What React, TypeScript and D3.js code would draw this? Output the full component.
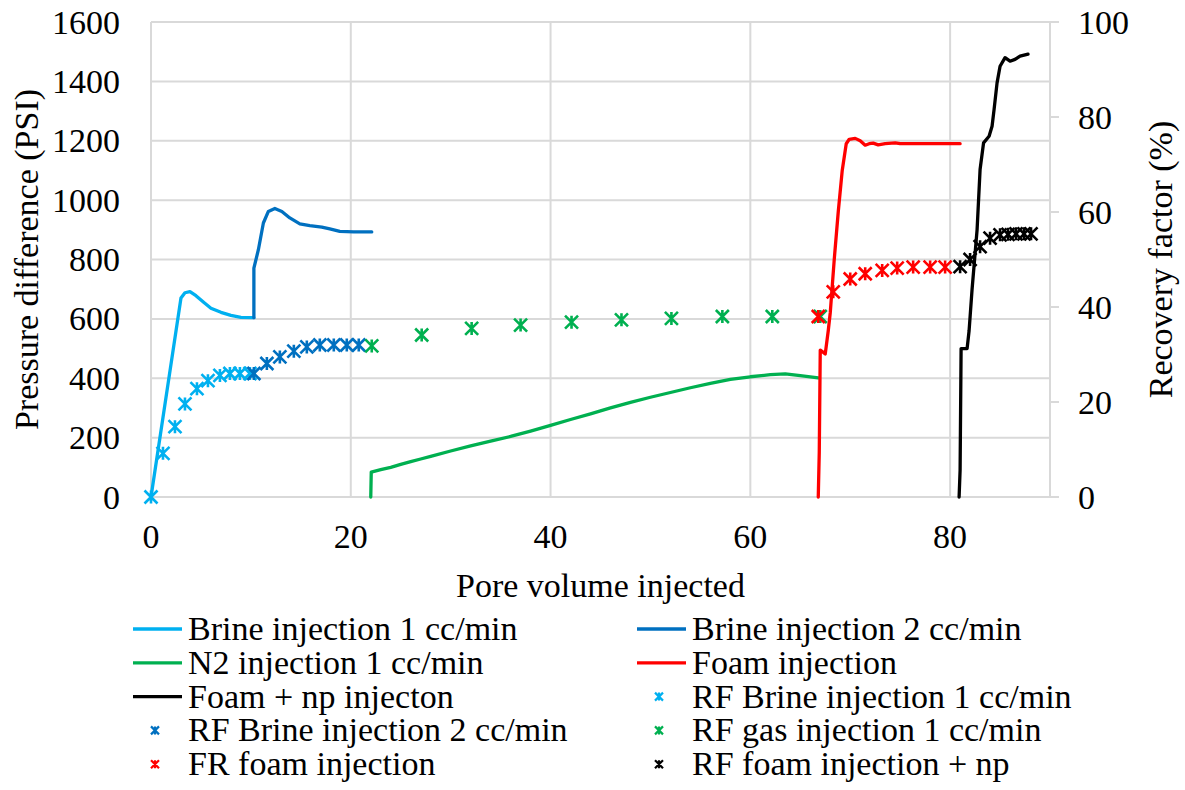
import React, { useEffect } from "react";
import * as d3 from "d3";

// ---- Data (pore volume injected, value) ----
const brine1Line: [number, number][] = [
  [0, 0], [3.0, 670], [3.4, 688], [3.9, 692], [4.5, 678], [5.3, 655], [6.0, 636],
  [7.0, 622], [8.0, 612], [9.0, 605], [10.3, 604],
];
const brine2Line: [number, number][] = [
  [10.3, 604], [10.3, 771], [10.75, 833], [11.25, 923], [11.75, 962], [12.4, 972],
  [13.1, 962], [13.9, 940], [14.9, 920], [15.9, 914], [17.1, 909], [17.9, 903],
  [18.9, 895], [20.3, 893], [22.1, 893],
];
const n2Line: [number, number][] = [
  [22.0, 0], [22.05, 84], [23, 92], [24, 100], [25, 110], [26, 119], [27, 128],
  [28, 137], [30, 155], [32, 172], [34, 188], [36, 204], [38, 222], [40, 241],
  [42, 261], [44, 280], [46, 300], [48, 319], [50, 336], [52, 352], [54, 368],
  [56, 383], [58, 396], [60, 405], [62, 412], [63.5, 415], [65, 409], [66.8, 401],
];
const foamLine: [number, number][] = [
  [66.8, 0], [66.9, 150], [67.0, 495], [67.5, 482], [67.8, 560], [68.0, 620],
  [68.4, 800], [68.8, 960], [69.2, 1100], [69.6, 1190], [69.9, 1205], [70.5, 1208],
  [71.0, 1200], [71.5, 1185], [71.9, 1190], [72.3, 1192], [72.8, 1186], [73.5, 1190],
  [74.5, 1193], [75, 1190], [81, 1190],
];
const foamNpLine: [number, number][] = [
  [80.9, 0], [81.0, 90], [81.1, 500], [81.7, 500], [81.9, 560], [82.2, 700],
  [82.7, 900], [83.0, 1103], [83.35, 1193], [83.9, 1215], [84.2, 1249], [84.4, 1305],
  [84.7, 1395], [85.0, 1451], [85.5, 1480], [86.0, 1468], [86.5, 1474], [87.0, 1485],
  [87.8, 1492],
];

const rfBrine1: [number, number][] = [
  [0, 0], [1.2, 9.2], [2.4, 14.8], [3.4, 19.6], [4.6, 22.8], [5.7, 24.5],
  [6.9, 25.6], [7.9, 26], [8.9, 26], [9.9, 26],
];
const rfBrine2: [number, number][] = [
  [10.3, 26], [11.6, 28.1], [12.9, 29.5], [14.3, 30.7], [15.6, 31.6], [16.9, 32],
  [18.3, 32], [19.6, 32], [20.8, 32],
];
const rfGas: [number, number][] = [
  [22.1, 31.8], [27.1, 34.1], [32.1, 35.5], [37, 36.2], [42.1, 36.8], [47.1, 37.3],
  [52.1, 37.6], [57.2, 38], [62.2, 38], [67, 38],
];
const rfFoam: [number, number][] = [
  [66.8, 38], [68.3, 43.2], [70, 45.9], [71.5, 47], [73.2, 47.7], [74.7, 48.2],
  [76.3, 48.4], [78, 48.4], [79.5, 48.4],
];
const rfFoamNp: [number, number][] = [
  [81, 48.5], [82, 50], [83, 52.7], [84, 54.5], [85, 55.2], [85.8, 55.3],
  [86.6, 55.4], [87.4, 55.4], [88.1, 55.4],
];

const xTicks = [0, 20, 40, 60, 80];
const yLeftTicks = [0, 200, 400, 600, 800, 1000, 1200, 1400, 1600];
const yRightTicks = [0, 20, 40, 60, 80, 100];

const COLORS = {
  brine1: "#00B0F0",
  brine2: "#0070C0",
  n2: "#00B050",
  foam: "#FF0000",
  foamNp: "#000000",
};

const lineSeries = [
  { name: "Brine injection 1 cc/min", data: brine1Line, color: COLORS.brine1 },
  { name: "Brine injection 2 cc/min", data: brine2Line, color: COLORS.brine2 },
  { name: "N2 injection 1 cc/min", data: n2Line, color: COLORS.n2 },
  { name: "Foam injection", data: foamLine, color: COLORS.foam },
  { name: "Foam + np injecton", data: foamNpLine, color: COLORS.foamNp },
];
const markerSeries = [
  { name: "RF Brine injection 1 cc/min", data: rfBrine1, color: COLORS.brine1 },
  { name: "RF Brine injection 2 cc/min", data: rfBrine2, color: COLORS.brine2 },
  { name: "RF gas injection 1 cc/min", data: rfGas, color: COLORS.n2 },
  { name: "FR foam injection", data: rfFoam, color: COLORS.foam },
  { name: "RF foam injection + np", data: rfFoamNp, color: COLORS.foamNp },
];

const FONT = "Liberation Serif";
const FS = 34;

function starPath(s: number) {
  return `M${-s},${-s}L${s},${s}M${-s},${s}L${s},${-s}M0,${-s}L0,${s}`;
}

function T(props: any) {
  const { children, ...rest } = props;
  return (
    <text className="ct" fontFamily={FONT} fontSize={FS} fill="#000" {...rest}>
      {children}
    </text>
  );
}

export default function App() {
  useEffect(() => {
    document.body.style.margin = "0";
    document.body.style.fontFamily = FONT;
  }, []);
  const W = 1185, H = 790;
  const left = 151, right = 1050, top = 22, bottom = 497;
  const x = d3.scaleLinear().domain([0, 90]).range([left, right]);
  const yL = d3.scaleLinear().domain([0, 1600]).range([bottom, top]);
  const yR = d3.scaleLinear().domain([0, 100]).range([bottom, top]);
  const line = d3.line<[number, number]>().x((d) => x(d[0])).y((d) => yL(d[1]));
  const grid = "#D9D9D9";

  const legendItems = [
    { kind: "line", ...lineSeries[0] },
    { kind: "line", ...lineSeries[1] },
    { kind: "line", ...lineSeries[2] },
    { kind: "line", ...lineSeries[3] },
    { kind: "line", ...lineSeries[4] },
    { kind: "marker", ...markerSeries[0] },
    { kind: "marker", ...markerSeries[1] },
    { kind: "marker", ...markerSeries[2] },
    { kind: "marker", ...markerSeries[3] },
    { kind: "marker", ...markerSeries[4] },
  ];
  const colX = [133, 637];
  const rowBase = 640;
  const rowStep = 33.8;

  return (
    <svg width={W} height={H} style={{ display: "block", position: "absolute", left: 0, top: 0 }}>
      <style>{`.ct { font-family: "Liberation Serif", serif !important; font-size: 34px; }`}</style>
      <rect x={0} y={0} width={W} height={H} fill="#fff" />
      {/* horizontal gridlines */}
      {yLeftTicks.map((t) => (
        <line key={"h" + t} x1={left} x2={right} y1={yL(t)} y2={yL(t)} stroke={grid} strokeWidth={2} />
      ))}
      {/* vertical gridlines */}
      {xTicks.map((t) => (
        <line key={"v" + t} x1={x(t)} x2={x(t)} y1={top} y2={bottom} stroke={grid} strokeWidth={2} />
      ))}
      {/* right axis */}
      <line x1={right} x2={right} y1={top} y2={bottom} stroke={grid} strokeWidth={2} />
      {yRightTicks.map((t) => (
        <line key={"rt" + t} x1={right} x2={right + 9} y1={yR(t)} y2={yR(t)} stroke={grid} strokeWidth={2} />
      ))}

      {/* lines */}
      {lineSeries.map((s) => (
        <path key={s.name} d={line(s.data) || ""} fill="none" stroke={s.color} strokeWidth={3.3}
          strokeLinejoin="round" strokeLinecap="round" />
      ))}
      {/* markers */}
      {markerSeries.map((s) => (
        <g key={s.name}>
          {s.data.map((d, i) => (
            <path key={i} transform={`translate(${x(d[0])},${yR(d[1])})`} d={starPath(6.5)}
              stroke={s.color} strokeWidth={2.6} fill="none" />
          ))}
        </g>
      ))}

      {/* left tick labels */}
      {yLeftTicks.map((t) => (
        <T key={"lt" + t} x={120} y={yL(t)} dy="0.34em" textAnchor="end">{t}</T>
      ))}
      {/* right tick labels */}
      {yRightTicks.map((t) => (
        <T key={"rl" + t} x={1078} y={yR(t)} dy="0.34em" textAnchor="start">{t}</T>
      ))}
      {/* x tick labels */}
      {xTicks.map((t) => (
        <T key={"xt" + t} x={x(t)} y={548} textAnchor="middle">{t}</T>
      ))}

      {/* axis titles */}
      <T x={(left + right) / 2} y={597} textAnchor="middle">Pore volume injected</T>
      <T transform={`translate(38,${(top + bottom) / 2}) rotate(-90)`} textAnchor="middle">
        Pressure difference (PSI)
      </T>
      <T transform={`translate(1172,${(top + bottom) / 2}) rotate(-90)`} textAnchor="middle">
        Recovery factor (%)
      </T>

      {/* legend */}
      {legendItems.map((it, i) => {
        const col = i % 2;
        const row = Math.floor(i / 2);
        const bx = colX[col];
        const by = rowBase + row * rowStep;
        const cy = by - 11;
        return (
          <g key={"lg" + i}>
            {it.kind === "line" ? (
              <line x1={bx} x2={bx + 49} y1={cy} y2={cy} stroke={it.color} strokeWidth={3.3} />
            ) : (
              <path transform={`translate(${bx + 22},${cy})`} d={starPath(4)} stroke={it.color}
                strokeWidth={2.2} fill="none" />
            )}
            <T x={bx + 55} y={by}>{it.name}</T>
          </g>
        );
      })}
    </svg>
  );
}
